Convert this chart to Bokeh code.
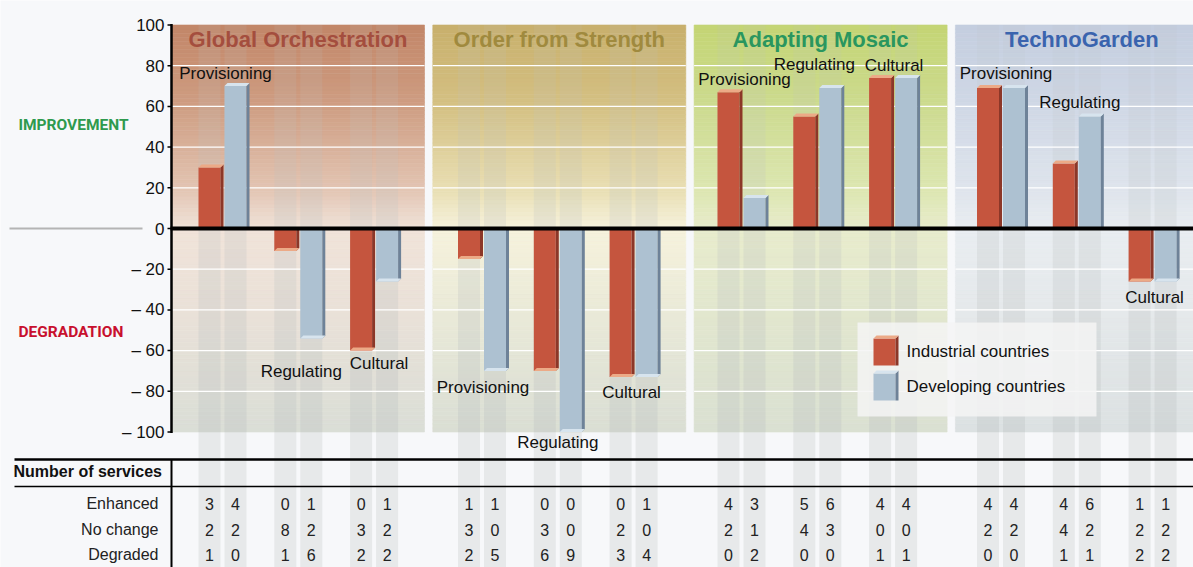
from bokeh.plotting import figure
from bokeh.models import Range1d, ColumnDataSource
from bokeh.core.properties import value
from bokeh.embed import file_html
from bokeh.resources import INLINE

# ---------------- data ----------------
SCENARIOS = ["Global Orchestration", "Order from Strength", "Adapting Mosaic", "TechnoGarden"]
SERVICES = ["Provisioning", "Regulating", "Cultural"]
SERIES = ["Industrial countries", "Developing countries"]
# net change (%) per scenario x service, in order GO(P,R,C), OS(P,R,C), AM(P,R,C), TG(P,R,C)
INDUSTRIAL = [30, -11, -60, -15, -70, -73, 67, 55, 74, 69, 32, -26]
DEVELOPING = [70, -54, -26, -70, -100, -73, 15, 69, 74, 69, 55, -26]
ROW_LABELS = ["Enhanced", "No change", "Degraded"]
ENH_IND = [3, 0, 0, 1, 0, 0, 4, 5, 4, 4, 4, 1]
ENH_DEV = [4, 1, 1, 1, 0, 1, 3, 6, 4, 4, 6, 1]
NOCH_IND = [2, 8, 3, 3, 3, 2, 2, 4, 0, 2, 4, 2]
NOCH_DEV = [2, 2, 2, 0, 0, 0, 1, 3, 0, 2, 2, 2]
DEG_IND = [1, 1, 2, 2, 6, 3, 0, 0, 1, 0, 1, 2]
DEG_DEV = [0, 6, 2, 5, 9, 4, 2, 0, 1, 0, 1, 2]
TICKS = [-100, -80, -60, -40, -20, 0, 20, 40, 60, 80, 100]
TICK_LABELS = ["\u2013 100", "\u2013 80", "\u2013 60", "\u2013 40", "\u2013 20", "0",
               "20", "40", "60", "80", "100"]
SIDE_LABELS = ["IMPROVEMENT", "DEGRADATION"]
TABLE_TITLE = "Number of services"

# ---------------- layout / style ----------------
FONT = "Liberation Sans"
W, H = 1193, 567
PX_PER_UNIT = 2.035
ZERO_PY = 228.0


def vy(py):
    return (ZERO_PY - py) / PX_PER_UNIT


BG = "#f7f8fa"
AXIS_X = 171.0
PANEL_LEFT0, PANEL_PITCH, PANEL_W = 171.0, 261.3, 253.0
X_FIRST, SCEN_STEP, GROUP_STEP = 223.0, 259.5, 75.8
BW = 22
DX, DY = 3.0, 3.0 / PX_PER_UNIT
IND_COLS = ("#c5553e", "#8c3728", "#ecaa87")   # front, side, cap
DEV_COLS = ("#adc1d1", "#6e8298", "#d7e4ee")
TITLE_COLORS = ["#a44e3e", "#a08a3e", "#2a965f", "#3a64ae"]
SIDE_COLORS = ["#2e9a4e", "#c8102e"]
STRIPE = "#bec3c3"
GRAD = [
    [(100, (194, 134, 104)), (60, (207, 158, 131)), (20, (226, 196, 178)), (0, (240, 227, 217)), (-40, (234, 225, 216)), (-100, (218, 222, 214))],
    [(100, (200, 176, 108)), (60, (213, 193, 132)), (20, (232, 222, 178)), (0, (246, 242, 220)), (-40, (234, 234, 216)), (-100, (218, 222, 212))],
    [(100, (196, 213, 116)), (60, (205, 219, 144)), (20, (220, 230, 176)), (0, (232, 236, 204)), (-40, (226, 231, 206)), (-100, (218, 224, 210))],
    [(100, (196, 206, 223)), (60, (208, 216, 230)), (20, (222, 228, 236)), (0, (233, 237, 241)), (-40, (229, 233, 235)), (-100, (220, 225, 226))],
]
# label nudges (screen px) relative to the bar extreme / group centre
LBL_DX = [2, 2, 4, 0, -1, -3, 2, -4, 0, 4, 2, 1]
LBL_DY = [-12.7, 33, 13.2, 16.2, 10.2, 15.6, -12.4, -23.9, -12.9, -14.6, -14.1, 16.1]
ROW_PY = [503, 529, 554]


def interp(stops, v):
    for (v0, c0), (v1, c1) in zip(stops[:-1], stops[1:]):
        if v1 <= v <= v0:
            t = (v0 - v) / (v0 - v1)
            return "#%02x%02x%02x" % tuple(int(round(a + (b - a) * t)) for a, b in zip(c0, c1))
    return "#%02x%02x%02x" % stops[-1][1]


p = figure(width=W, height=H, x_range=Range1d(0, W), y_range=Range1d(vy(H), vy(0)),
           output_backend="svg", toolbar_location=None, x_axis_location=None, y_axis_location=None,
           min_border_left=0, min_border_right=0, min_border_top=0, min_border_bottom=0)
p.background_fill_color = BG
p.border_fill_color = BG
p.outline_line_color = None
p.grid.grid_line_color = None

# ---- panel gradients ----
NB = 100
gl, gr, gb, gt, gc = [], [], [], [], []
for s in range(len(SCENARIOS)):
    left = PANEL_LEFT0 + s * PANEL_PITCH
    for k in range(NB):
        b = -100 + k * 200.0 / NB
        t = b + 200.0 / NB
        gl.append(left); gr.append(left + PANEL_W); gb.append(b); gt.append(t)
        gc.append(interp(GRAD[s], (b + t) / 2))
p.quad(left=gl, right=gr, bottom=gb, top=gt, fill_color=gc, line_color=gc, line_width=0.6)

# ---- bar geometry ----
n = len(INDUSTRIAL)
centers = [X_FIRST + (i // 3) * SCEN_STEP + (i % 3) * GROUP_STEP for i in range(n)]
ind_x0 = [c - 25 for c in centers]
dev_x0 = [c + 1 for c in centers]

# ---- column stripes (fainter towards the top of the panels) ----
sx0 = ind_x0 + dev_x0
p.quad(left=sx0, right=[x + BW for x in sx0], bottom=vy(H), top=-100,
       fill_color=STRIPE, fill_alpha=0.28, line_color=None)
NS = 20
sl, sr, sb, st, sa = [], [], [], [], []
for k in range(NS):
    b = -100 + k * 200.0 / NS
    t = b + 200.0 / NS
    a = 0.36 - 0.24 * (k + 0.5) / NS
    for x in sx0:
        sl.append(x); sr.append(x + BW); sb.append(b); st.append(t); sa.append(a)
p.quad(left=sl, right=sr, bottom=sb, top=st, fill_color=STRIPE, fill_alpha=sa, line_color=None)

# ---- white grid lines ----
gx0, gx1, gy = [], [], []
for s in range(len(SCENARIOS)):
    left = PANEL_LEFT0 + s * PANEL_PITCH
    for t in TICKS:
        if t not in (0, -100, 100):
            gx0.append(left); gx1.append(left + PANEL_W); gy.append(t)
p.segment(x0=gx0, y0=gy, x1=gx1, y1=gy, line_color="white", line_width=1.3)


def draw_bars(x0s, vals, cols, base=0.0):
    front, side, cap = cols
    x1s = [x + BW for x in x0s]
    bots = [min(base, v) for v in vals]
    tps = [max(base, v) for v in vals]
    p.quad(left=x0s, right=x1s, bottom=bots, top=tps, fill_color=front, line_color=None)
    sxs = [[x1, x1 + DX, x1 + DX, x1] for x1 in x1s]
    sys_ = [[base, base, v + DY, v] for v in vals]
    p.patches(xs=sxs, ys=sys_, fill_color=side, line_color=None)
    cxs = [[x0, x1, x1 + DX, x0 + DX] for x0, x1 in zip(x0s, x1s)]
    cys = [[v, v, v + DY, v + DY] for v in vals]
    p.patches(xs=cxs, ys=cys, fill_color=cap, line_color=None)


draw_bars(ind_x0, INDUSTRIAL, IND_COLS)
draw_bars(dev_x0, DEVELOPING, DEV_COLS)

# ---- zero line (and its grey extension left of the axis) ----
p.segment(x0=[AXIS_X - 1], y0=[0], x1=[W], y1=[0], line_color="black", line_width=4)
p.segment(x0=[9], y0=[0], x1=[142], y1=[0], line_color="#b4b4b4", line_width=2)

# ---- y axis (line, ticks, labels) drawn on the y scale ----
p.segment(x0=[AXIS_X], y0=[-100.5], x1=[AXIS_X], y1=[100.5], line_color="black", line_width=2.5)
p.segment(x0=[AXIS_X - 4] * len(TICKS), y0=TICKS, x1=[AXIS_X] * len(TICKS), y1=TICKS,
          line_color="black", line_width=1.5)
p.text(x=[AXIS_X - 7] * len(TICKS), y=TICKS, text=TICK_LABELS, text_font=value(FONT),
       text_font_size="17px", text_color="#111111", text_align="right", text_baseline="middle")

# ---- side labels ----
p.text(x=[18, 18], y=[vy(124), vy(331)], text=SIDE_LABELS, text_color=SIDE_COLORS,
       text_font=value("Roboto"), text_font_style="bold", text_font_size="15.5px",
       text_align="left", text_baseline="middle")

# ---- titles ----
tsrc = ColumnDataSource(dict(x=[PANEL_LEFT0 + s * PANEL_PITCH + PANEL_W / 2 for s in range(4)],
                             y=[vy(39)] * 4, text=SCENARIOS, color=TITLE_COLORS))
p.text("x", "y", "text", source=tsrc, text_color="color", text_font=value(FONT),
       text_font_style="bold", text_font_size="22px", text_align="center", text_baseline="middle")

# ---- service labels ----
ext = [max(a, b) if a + b > 0 else min(a, b) for a, b in zip(INDUSTRIAL, DEVELOPING)]
lsrc = ColumnDataSource(dict(x=[c + d for c, d in zip(centers, LBL_DX)], y=ext,
                             text=[SERVICES[i % 3] for i in range(n)], dy=LBL_DY))
p.text("x", "y", "text", source=lsrc, y_offset="dy", text_font=value(FONT), text_font_size="17px",
       text_color="#111111", text_align="center", text_baseline="middle")

# ---- legend ----
p.quad(left=[857], right=[1096], bottom=[vy(416)], top=[vy(322)], fill_color="#f4f5f5",
       fill_alpha=0.85, line_color=None)
draw_bars([873], [vy(338)], IND_COLS, base=vy(365))
draw_bars([873], [vy(373)], DEV_COLS, base=vy(400))
p.text(x=[906, 906], y=[vy(351), vy(386)], text=SERIES, text_font=value(FONT), text_font_size="17px",
       text_color="#111111", text_align="left", text_baseline="middle")

# ---- table ----
rows = [(ENH_IND, ENH_DEV), (NOCH_IND, NOCH_DEV), (DEG_IND, DEG_DEV)]
tx, ty, tt = [], [], []
for (ri, rd), py in zip(rows, ROW_PY):
    for i in range(n):
        tx += [ind_x0[i] + BW / 2, dev_x0[i] + BW / 2]
        ty += [vy(py), vy(py)]
        tt += [str(ri[i]), str(rd[i])]
p.text(x=tx, y=ty, text=tt, text_font=value(FONT), text_font_size="16px", text_color="#222222",
       text_align="center", text_baseline="middle")
p.text(x=[158] * 3, y=[vy(py) for py in ROW_PY], text=ROW_LABELS, text_font=value(FONT),
       text_font_size="16px", text_color="#222222", text_align="right", text_baseline="middle")
p.text(x=[13], y=[vy(471)], text=[TABLE_TITLE], text_font=value(FONT), text_font_size="16px",
       text_font_style="bold", text_color="#111111", text_align="left", text_baseline="middle")

p.segment(x0=[14], y0=[vy(459)], x1=[W], y1=[vy(459)], line_color="black", line_width=2.5)
p.segment(x0=[14], y0=[vy(486)], x1=[W], y1=[vy(486)], line_color="black", line_width=1.5)
p.segment(x0=[AXIS_X], y0=[vy(459)], x1=[AXIS_X], y1=[vy(H)], line_color="black", line_width=2)

open("out.html", "w").write(file_html(p, INLINE))
